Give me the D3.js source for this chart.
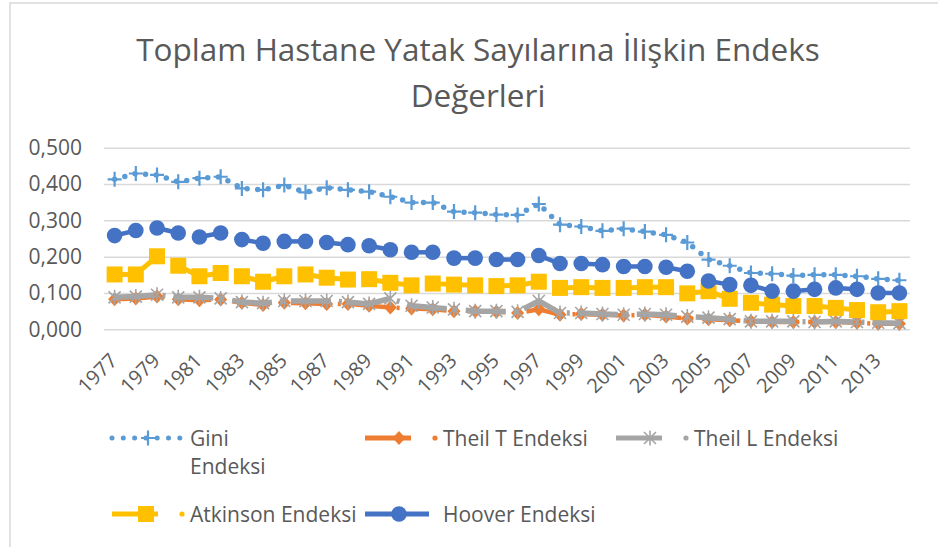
<!DOCTYPE html>
<html>
<head>
<meta charset="utf-8">
<script src="https://cdn.jsdelivr.net/npm/d3@7/dist/d3.min.js"></script>
<style>
  body { margin: 0; background: #fff; }
  text { font-family: "Open Sans", sans-serif; fill: #595959; }
</style>
</head>
<body>
<div id="chart"></div>
<script>
const years = [1977, 1978, 1979, 1980, 1981, 1982, 1983, 1984, 1985, 1986,
    1987, 1988, 1989, 1990, 1991, 1992, 1993, 1994, 1995, 1996,
    1997, 1998, 1999, 2000, 2001, 2002, 2003, 2004, 2005, 2006,
    2007, 2008, 2009, 2010, 2011, 2012, 2013, 2014];

const gini = [0.413, 0.429, 0.425, 0.406, 0.416, 0.420, 0.388, 0.384, 0.397, 0.377,
    0.390, 0.384, 0.379, 0.365, 0.349, 0.349, 0.324, 0.321, 0.316, 0.315,
    0.345, 0.288, 0.283, 0.271, 0.277, 0.269, 0.260, 0.239, 0.192, 0.175,
    0.155, 0.153, 0.148, 0.150, 0.150, 0.146, 0.139, 0.135];
const theilT = [0.083, 0.085, 0.090, 0.083, 0.080, 0.082, 0.073, 0.067, 0.073, 0.072,
    0.070, 0.070, 0.065, 0.060, 0.057, 0.055, 0.050, 0.050, 0.048, 0.045,
    0.055, 0.040, 0.042, 0.040, 0.038, 0.040, 0.035, 0.030, 0.028, 0.025,
    0.022, 0.020, 0.020, 0.020, 0.020, 0.018, 0.015, 0.015];
const theilL = [0.088, 0.090, 0.095, 0.088, 0.088, 0.085, 0.075, 0.072, 0.078, 0.078,
    0.078, 0.075, 0.070, 0.085, 0.065, 0.060, 0.055, 0.050, 0.050, 0.048,
    0.078, 0.045, 0.045, 0.042, 0.040, 0.042, 0.040, 0.035, 0.032, 0.028,
    0.022, 0.022, 0.022, 0.020, 0.022, 0.020, 0.018, 0.017];
const atkinson = [0.151, 0.151, 0.201, 0.175, 0.146, 0.155, 0.146, 0.131, 0.146, 0.151,
    0.142, 0.137, 0.138, 0.128, 0.121, 0.126, 0.123, 0.121, 0.119, 0.121,
    0.131, 0.114, 0.116, 0.114, 0.114, 0.116, 0.116, 0.099, 0.105, 0.084,
    0.073, 0.068, 0.064, 0.064, 0.059, 0.053, 0.047, 0.050];
const hoover = [0.258, 0.272, 0.279, 0.265, 0.254, 0.265, 0.247, 0.237, 0.242, 0.242,
    0.239, 0.233, 0.230, 0.219, 0.212, 0.212, 0.196, 0.196, 0.192, 0.192,
    0.203, 0.181, 0.181, 0.178, 0.173, 0.173, 0.171, 0.160, 0.133, 0.123,
    0.121, 0.105, 0.105, 0.110, 0.114, 0.110, 0.100, 0.100];

const yTicks = [0, 0.1, 0.2, 0.3, 0.4, 0.5];
const xLabelYears = years.filter((d, i) => i % 2 === 0 && d < 2014);

const titleLines = ["Toplam Hastane Yatak Sayılarına İlişkin Endeks", "Değerleri"];

const width = 938, height = 547;
const plot = {left: 104, right: 910, top: 147.7, bottom: 329.3};

const svg = d3.select("#chart").append("svg")
    .attr("width", width)
    .attr("height", height);

// chart border (only top and left edges are visible in the crop)
svg.append("path")
    .attr("d", "M10,547V3H938")
    .attr("fill", "none")
    .attr("stroke", "#d9d9d9")
    .attr("stroke-width", 1.5);

svg.append("g").selectAll("text")
    .data(titleLines)
    .enter().append("text")
    .attr("x", 478)
    .attr("y", (d, i) => 61 + i * 46)
    .attr("text-anchor", "middle")
    .style("font-size", "31.5px")
    .text(d => d);

const x = d3.scaleBand().domain(years).range([plot.left, plot.right]);
const cx = d => x(d) + x.bandwidth() / 2;
const y = d3.scaleLinear().domain([0, 0.5]).range([plot.bottom, plot.top]);

const fmt = d => d3.format(".3f")(d).replace(".", ",");

const yAxis = svg.append("g")
    .attr("transform", "translate(" + plot.left + ",0)")
    .call(d3.axisLeft(y).tickValues(yTicks).tickSize(-(plot.right - plot.left))
        .tickPadding(22).tickFormat(fmt));
yAxis.select(".domain").remove();
yAxis.selectAll("line").attr("stroke", "#d9d9d9").attr("stroke-width", 1.5);
yAxis.selectAll("text")
    .style("font-size", "21px")
    .style("font-family", "'Open Sans', sans-serif")
    .attr("fill", "#595959");

svg.append("g").selectAll("text")
    .data(xLabelYears)
    .enter().append("text")
    .attr("transform", d => "translate(" + (cx(d) + 4) + ",362) rotate(-45)")
    .attr("text-anchor", "end")
    .style("font-size", "20px")
    .text(d => d);

// markers
const plus = "M-7,0H7M0,-7.5V7.5";
const star = "M-6,-6L6,6M-6,6L6,-6M0,-7.5V7.5";
const diamond = "M0,-7L6.5,0L0,7L-6.5,0Z";

const series = [
    {name: "Gini", values: gini, color: "#5b9bd5", width: 5.5, dash: "0,10.6", marker: "plus"},
    {name: "Theil T Endeksi", values: theilT, color: "#ed7d31", width: 4.5, dash: "38,9,3,9", marker: "diamond"},
    {name: "Theil L Endeksi", values: theilL, color: "#a5a5a5", width: 5.5, dash: "40,8,3,8", marker: "star"},
    {name: "Atkinson Endeksi", values: atkinson, color: "#ffc000", width: 5, keep: i => i % 3 !== 2, marker: "square"},
    {name: "Hoover Endeksi", values: hoover, color: "#4472c4", width: 4.5, keep: i => i % 2 === 0, marker: "circle"}
];

const line = d3.line().x(d => cx(d.year)).y(d => y(d.value));

function drawMarker(g, s, size) {
    const k = size || 1;
    if (s.marker === "plus") {
        g.append("path").attr("d", plus).attr("stroke", s.color).attr("stroke-width", 2.2)
            .attr("fill", "none").attr("transform", "scale(" + k + ")");
    } else if (s.marker === "star") {
        g.append("path").attr("d", star).attr("stroke", s.color).attr("stroke-width", 1.6)
            .attr("fill", "none").attr("transform", "scale(" + k + ")");
    } else if (s.marker === "diamond") {
        g.append("path").attr("d", diamond).attr("fill", s.color).attr("transform", "scale(" + k + ")");
    } else if (s.marker === "square") {
        g.append("rect").attr("x", -8 * k).attr("y", -8 * k).attr("width", 16 * k).attr("height", 16 * k)
            .attr("fill", s.color);
    } else {
        g.append("circle").attr("r", 7.8 * k).attr("fill", s.color);
    }
}

series.forEach(s => {
    const pts = years.map((yr, i) => ({year: yr, value: s.values[i]}));
    const g = svg.append("g").attr("class", "series");
    if (s.keep) {
        g.selectAll("path.seg")
            .data(d3.pairs(pts).filter((p, i) => s.keep(i)))
            .enter().append("path")
            .attr("class", "seg")
            .attr("d", line)
            .attr("fill", "none")
            .attr("stroke", s.color)
            .attr("stroke-width", s.width);
    } else {
        g.append("path")
            .datum(pts)
            .attr("d", line)
            .attr("fill", "none")
            .attr("stroke", s.color)
            .attr("stroke-width", s.width)
            .attr("stroke-linecap", s.marker === "plus" ? "round" : "butt")
            .attr("stroke-dasharray", s.dash);
    }
    g.selectAll("g.mk")
        .data(pts)
        .enter().append("g")
        .attr("class", "mk")
        .attr("transform", d => "translate(" + cx(d.year) + "," + y(d.value) + ")")
        .each(function () { drawMarker(d3.select(this), s); });
});

// legend
const legendPos = [
    {x: 112, y: 438},
    {x: 365, y: 438},
    {x: 616, y: 438},
    {x: 112, y: 514},
    {x: 365, y: 514}
];

const legend = svg.append("g").attr("class", "legend");
series.forEach((s, i) => {
    const p = legendPos[i];
    const g = legend.append("g").attr("transform", "translate(" + p.x + "," + p.y + ")");
    if (s.marker === "plus") {
        g.append("path").attr("d", "M0,0H68").attr("stroke", s.color).attr("stroke-width", 5)
            .attr("stroke-linecap", "round").attr("stroke-dasharray", "0,11.3");
    } else if (s.marker === "circle") {
        g.append("path").attr("d", "M0,0H64").attr("stroke", s.color).attr("stroke-width", 5);
    } else {
        g.append("path").attr("d", "M0,0H46").attr("stroke", s.color).attr("stroke-width", 5);
        g.append("circle").attr("cx", 70).attr("r", 2.6).attr("fill", s.color);
    }
    const m = g.append("g").attr("transform", "translate(" + (s.marker === "plus" ? 36 : 34) + ",0)");
    drawMarker(m, s);
    const lines = s.name === "Gini" ? ["Gini", "Endeksi"] : [s.name];
    g.selectAll("text")
        .data(lines)
        .enter().append("text")
        .attr("x", 78)
        .attr("y", (d, j) => 7.5 + j * 28)
        .style("font-size", "21px")
        .text(d => d);
});
</script>
</body>
</html>
